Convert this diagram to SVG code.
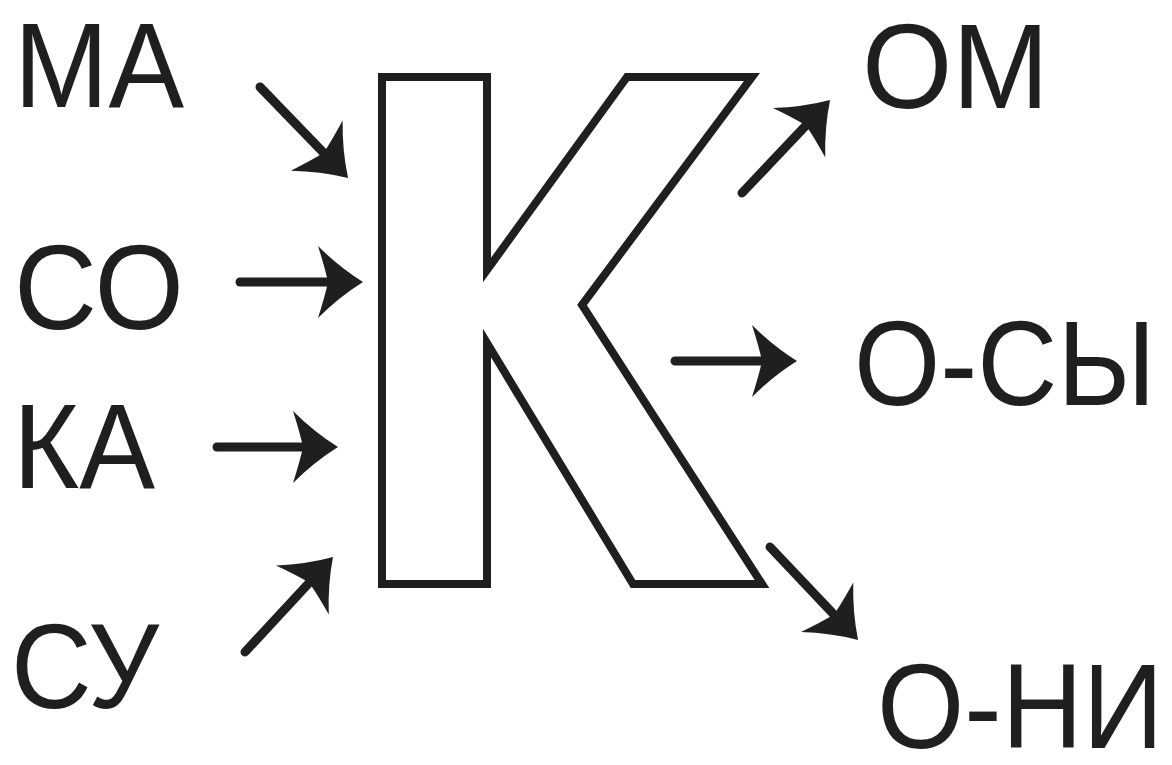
<svg xmlns="http://www.w3.org/2000/svg" width="1172" height="765" viewBox="0 0 1172 765">
  <style>
    .lbl { font-family: "Liberation Sans", Arial, sans-serif; font-size: 120px; fill: #1f1f1f; }
    .k { fill: none; stroke: #1f1f1f; stroke-width: 8; stroke-linejoin: miter; }
    .arr { fill: none; stroke: #1f1f1f; stroke-width: 9; stroke-linecap: round; marker-end: url(#head); }
  </style>
  <defs>
    <marker id="head" markerUnits="userSpaceOnUse" viewBox="-50 -40 60 80" refX="-35" refY="0" markerWidth="60" markerHeight="80" orient="auto">
      <path d="M0,0 Q-24,-15 -45,-36 Q-38,-14 -35,0 Q-38,14 -45,36 Q-24,15 0,0 Z" fill="#1f1f1f"/>
    </marker>
  </defs>
  <rect width="1172" height="765" fill="#ffffff"/>

  <g id="node-K">
    <path class="k" d="M382,77 L487,77 L487,270 L627,77 L752,77 L582,305 L762,584 L633,584 L487,343 L487,584 L382,584 Z"/>
  </g>

  <g id="node-MA"><text class="lbl" x="14" y="107" textLength="170" lengthAdjust="spacingAndGlyphs">МА</text></g>
  <g id="node-SO"><text class="lbl" x="14" y="329" textLength="170" lengthAdjust="spacingAndGlyphs">СО</text></g>
  <g id="node-KA"><text class="lbl" x="13" y="488" textLength="142" lengthAdjust="spacingAndGlyphs">КА</text></g>
  <g id="node-SU"><text class="lbl" x="11" y="708" textLength="148" lengthAdjust="spacingAndGlyphs">СУ</text></g>
  <g id="node-OM"><text class="lbl" x="862" y="108" textLength="187" lengthAdjust="spacingAndGlyphs">ОМ</text></g>
  <g id="node-OSY"><text class="lbl" transform="translate(854,405) scale(0.925,1)" x="0" y="0">О-СЫ</text></g>
  <g id="node-ONI"><text class="lbl" transform="translate(877,748) scale(0.935,1)" x="0" y="0">О-НИ</text></g>

  <g id="connectors">
    <line class="arr" x1="260" y1="87" x2="323.7" y2="152.8"/>
    <line class="arr" x1="240" y1="282" x2="328" y2="282"/>
    <line class="arr" x1="217" y1="447" x2="303" y2="447"/>
    <line class="arr" x1="245" y1="652" x2="309.2" y2="582.7"/>
    <line class="arr" x1="742" y1="193" x2="806" y2="125.4"/>
    <line class="arr" x1="675" y1="361" x2="762" y2="361"/>
    <line class="arr" x1="770" y1="547" x2="834" y2="614.6"/>
  </g>
</svg>
